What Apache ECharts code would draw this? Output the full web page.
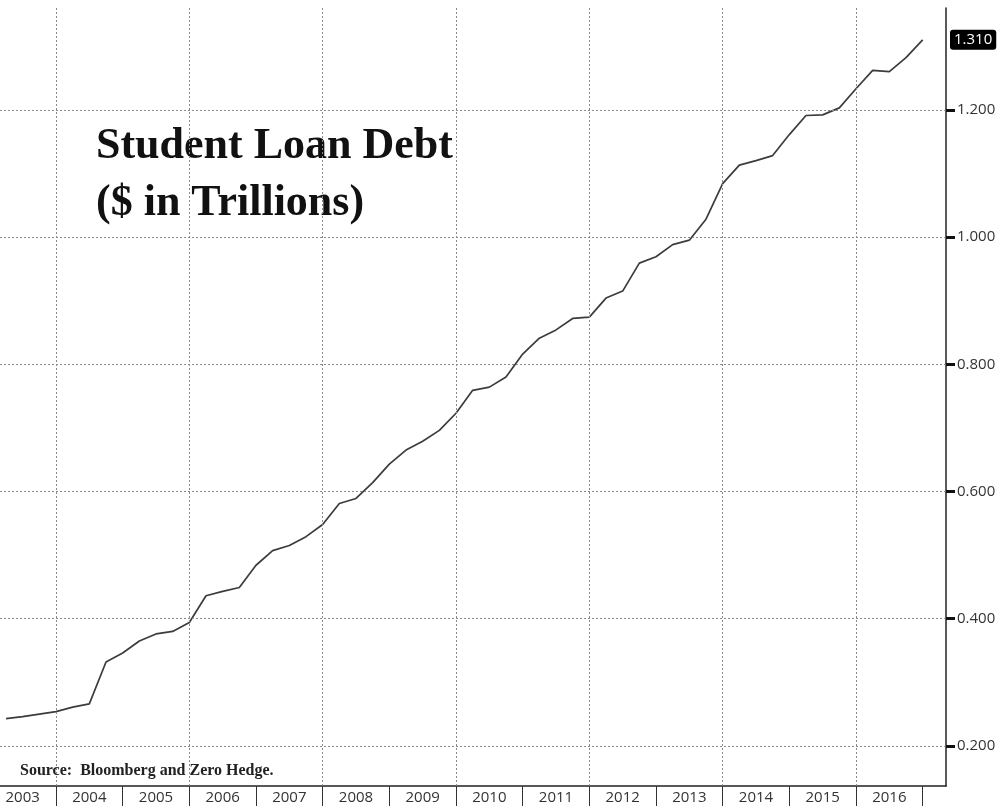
<!DOCTYPE html>
<html>
<head>
<meta charset="utf-8">
<script src="https://cdn.jsdelivr.net/npm/echarts@6/dist/echarts.min.js"></script>
<style>
  html, body { margin: 0; padding: 0; background: #fff; }
  #chart { width: 999px; height: 806px; }
</style>
</head>
<body>
<div id="chart"></div>
<script>
// quarterly values, Q1 2003 .. Q4 2016 ($ trillions)
const years = [2003, 2004, 2005, 2006, 2007, 2008, 2009, 2010, 2011, 2012, 2013, 2014, 2015, 2016];
const debt = [
  0.243, 0.246, 0.250, 0.254,
  0.261, 0.266, 0.332, 0.346,
  0.365, 0.376, 0.380, 0.394,
  0.436, 0.443, 0.449, 0.484,
  0.507, 0.515, 0.529, 0.548,
  0.581, 0.589, 0.614, 0.643,
  0.665, 0.679, 0.696, 0.723,
  0.759, 0.764, 0.780, 0.816,
  0.841, 0.854, 0.872, 0.874,
  0.904, 0.915, 0.959, 0.969,
  0.988, 0.995, 1.028, 1.084,
  1.113, 1.120, 1.128, 1.161,
  1.191, 1.192, 1.203, 1.233,
  1.262, 1.260, 1.282, 1.310
];
const yTicks = [0.2, 0.4, 0.6, 0.8, 1.0, 1.2];
const gridYears = [2004, 2006, 2008, 2010, 2012, 2014, 2016];

// each point sits at the end of its quarter
const points = debt.map((v, i) => [years[0] + (i + 1) / 4, v]);
const yearEdges = years.slice(1).concat([years[years.length - 1] + 1]);
const yearMids = years.map(y => y + 0.5);
const lastValue = debt[debt.length - 1];

const dotted = { color: '#8a8a8a', type: [2, 2], width: 1 };

const chart = echarts.init(document.getElementById('chart'));
chart.setOption({
  animation: false,
  backgroundColor: '#fff',
  grid: { left: 0, right: 53, top: 8, bottom: 20 },
  xAxis: {
    type: 'value',
    min: 2003.16,
    max: 2017.35,
    axisLine: { show: true, onZero: false, lineStyle: { color: '#222', width: 1.5 } },
    axisTick: { show: true, customValues: yearEdges, length: 20, lineStyle: { color: '#333', width: 1 } },
    axisLabel: {
      customValues: yearMids,
      formatter: v => String(Math.floor(v)),
      margin: 4,
      fontSize: 15,
      fontFamily: 'Open Sans',
      color: '#333'
    },
    splitLine: { show: false }
  },
  yAxis: {
    type: 'value',
    position: 'right',
    min: 0.137,
    max: 1.36,
    axisLine: { show: true, lineStyle: { color: '#222', width: 1.5 } },
    axisTick: { show: true, customValues: yTicks, length: 9, lineStyle: { color: '#111', width: 3 } },
    axisLabel: {
      customValues: yTicks,
      formatter: v => v.toFixed(3),
      margin: 11,
      fontSize: 15,
      fontFamily: 'Open Sans',
      color: '#333'
    },
    splitLine: { show: false }
  },
  series: [{
    type: 'line',
    data: points,
    symbol: 'none',
    lineStyle: { color: '#3c3c3c', width: 1.7 },
    markLine: {
      silent: true,
      symbol: 'none',
      animation: false,
      data: gridYears.map(y => ({ xAxis: y, lineStyle: dotted, label: { show: false } }))
        .concat(yTicks.map(v => ({ yAxis: v, lineStyle: dotted, label: { show: false } })))
        .concat([{
          yAxis: lastValue,
          lineStyle: { color: 'rgba(0,0,0,0)', width: 0 },
          label: {
            show: true,
            position: 'end',
            distance: 4,
            formatter: p => p.value.toFixed(3),
            backgroundColor: '#000',
            color: '#fff',
            fontSize: 15,
            fontFamily: 'Open Sans',
            padding: [3, 4, 2, 4],
            borderRadius: 3
          }
        }])
    }
  }],
  graphic: [
    {
      type: 'text', left: 96, top: 125,
      style: { text: 'Student Loan Debt', font: 'bold 44px "Liberation Serif"', fill: '#111' }
    },
    {
      type: 'text', left: 96, top: 182,
      style: { text: '($ in Trillions)', font: 'bold 44px "Liberation Serif"', fill: '#111' }
    },
    {
      type: 'text', left: 20, top: 763,
      style: { text: 'Source:  Bloomberg and Zero Hedge.', font: 'bold 16px "Liberation Serif"', fill: '#222' }
    }
  ]
});
</script>
</body>
</html>
